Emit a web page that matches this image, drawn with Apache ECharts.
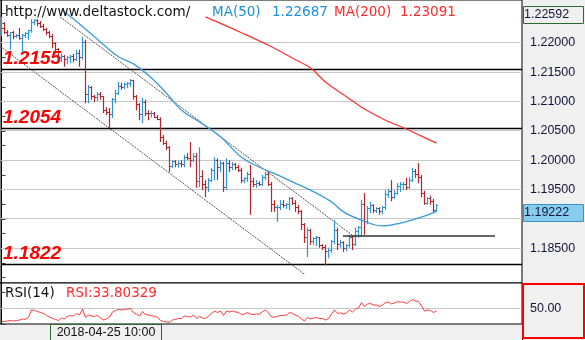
<!DOCTYPE html>
<html>
<head>
<meta charset="utf-8">
<script src="https://cdn.jsdelivr.net/npm/echarts@6/dist/echarts.min.js"></script>
<style>
  html, body { margin: 0; padding: 0; background: #f0f0f0; }
  #chart { width: 585px; height: 340px; }
</style>
</head>
<body>
<div id="chart"></div>
<script>
// EUR/USD hourly bars: [open, high, low, close]
const ohlc = [
  [1.2217,1.2244,1.2211,1.2232],[1.2232,1.2235,1.2215,1.2218],[1.2218,1.2222,1.2210,1.2213],[1.2213,1.2218,1.2188,1.2217],
  [1.2217,1.2220,1.2206,1.2211],[1.2211,1.2215,1.2208,1.2213],[1.2213,1.2225,1.2205,1.2208],[1.2208,1.2215,1.2184,1.2213],
  [1.2213,1.2218,1.2208,1.2215],[1.2215,1.2222,1.2205,1.2220],[1.2220,1.2240,1.2217,1.2235],[1.2235,1.2240,1.2230,1.2237],
  [1.2237,1.2240,1.2228,1.2232],[1.2232,1.2237,1.2225,1.2227],[1.2227,1.2232,1.2220,1.2222],[1.2222,1.2225,1.2213,1.2217],
  [1.2217,1.2220,1.2208,1.2211],[1.2211,1.2215,1.2191,1.2198],[1.2198,1.2201,1.2182,1.2188],[1.2188,1.2191,1.2165,1.2174],
  [1.2174,1.2182,1.2167,1.2177],[1.2177,1.2179,1.2159,1.2171],[1.2171,1.2177,1.2164,1.2174],[1.2174,1.2179,1.2165,1.2176],
  [1.2176,1.2181,1.2167,1.2172],[1.2172,1.2188,1.2169,1.2182],[1.2182,1.2188,1.2159,1.2174],[1.2174,1.2210,1.2171,1.2201],
  [1.2201,1.2205,1.2097,1.2111],[1.2111,1.2128,1.2097,1.2123],[1.2123,1.2126,1.2103,1.2108],[1.2108,1.2111,1.2099,1.2106],
  [1.2106,1.2116,1.2101,1.2111],[1.2111,1.2116,1.2103,1.2108],[1.2108,1.2109,1.2080,1.2085],[1.2085,1.2090,1.2077,1.2082],
  [1.2082,1.2089,1.2055,1.2077],[1.2077,1.2106,1.2072,1.2103],[1.2103,1.2120,1.2097,1.2114],[1.2114,1.2133,1.2111,1.2126],
  [1.2126,1.2132,1.2120,1.2123],[1.2123,1.2132,1.2121,1.2128],[1.2128,1.2133,1.2123,1.2130],[1.2130,1.2138,1.2125,1.2135],
  [1.2135,1.2137,1.2103,1.2108],[1.2108,1.2111,1.2085,1.2094],[1.2094,1.2097,1.2068,1.2077],[1.2077,1.2106,1.2063,1.2099],
  [1.2099,1.2103,1.2075,1.2080],[1.2080,1.2085,1.2068,1.2079],[1.2079,1.2084,1.2073,1.2080],[1.2080,1.2082,1.2072,1.2073],
  [1.2073,1.2077,1.2068,1.2070],[1.2070,1.2073,1.2031,1.2038],[1.2038,1.2043,1.2026,1.2029],[1.2029,1.2033,1.2017,1.2021],
  [1.2021,1.2024,1.1980,1.1990],[1.1990,1.2000,1.1987,1.1997],[1.1997,1.2000,1.1988,1.1992],[1.1992,1.1999,1.1987,1.1995],
  [1.1995,1.2000,1.1988,1.1992],[1.1992,1.2009,1.1988,1.2005],[1.2005,1.2012,1.2000,1.2003],[1.2003,1.2031,1.1988,1.2000],
  [1.2000,1.2012,1.1997,1.2007],[1.2007,1.2012,1.1953,1.1963],[1.1963,1.2022,1.1954,1.1973],[1.1973,1.1983,1.1949,1.1958],
  [1.1958,1.1966,1.1937,1.1953],[1.1953,1.1970,1.1946,1.1966],[1.1966,1.1987,1.1963,1.1982],[1.1982,1.2005,1.1966,1.2000],
  [1.2000,1.2003,1.1966,1.1988],[1.1988,1.2000,1.1980,1.1995],[1.1995,1.1997,1.1946,1.1953],[1.1953,1.2003,1.1949,1.1995],
  [1.1995,1.2000,1.1980,1.1987],[1.1987,1.1997,1.1983,1.1992],[1.1992,1.1995,1.1983,1.1987],[1.1987,1.1992,1.1980,1.1983],
  [1.1983,1.1987,1.1961,1.1966],[1.1966,1.1971,1.1961,1.1968],[1.1968,1.1980,1.1963,1.1975],[1.1975,1.1992,1.1907,1.1963],
  [1.1963,1.1970,1.1954,1.1958],[1.1958,1.1966,1.1953,1.1961],[1.1961,1.1964,1.1956,1.1959],[1.1959,1.1975,1.1956,1.1971],
  [1.1971,1.1980,1.1966,1.1976],[1.1976,1.1980,1.1956,1.1959],[1.1959,1.1963,1.1912,1.1924],[1.1924,1.1932,1.1912,1.1919],
  [1.1919,1.1924,1.1895,1.1920],[1.1920,1.1932,1.1915,1.1925],[1.1925,1.1932,1.1919,1.1922],[1.1922,1.1927,1.1917,1.1924],
  [1.1924,1.1937,1.1915,1.1934],[1.1934,1.1937,1.1924,1.1927],[1.1927,1.1932,1.1912,1.1920],[1.1920,1.1924,1.1908,1.1912],
  [1.1912,1.1915,1.1881,1.1890],[1.1890,1.1893,1.1859,1.1868],[1.1868,1.1885,1.1835,1.1880],[1.1880,1.1883,1.1856,1.1862],
  [1.1862,1.1869,1.1856,1.1866],[1.1866,1.1871,1.1854,1.1868],[1.1868,1.1869,1.1851,1.1854],[1.1854,1.1857,1.1847,1.1852],
  [1.1852,1.1856,1.1821,1.1844],[1.1844,1.1851,1.1833,1.1847],[1.1847,1.1864,1.1842,1.1861],[1.1861,1.1898,1.1857,1.1881],
  [1.1881,1.1885,1.1847,1.1857],[1.1857,1.1864,1.1851,1.1859],[1.1859,1.1862,1.1844,1.1849],[1.1849,1.1857,1.1845,1.1854],
  [1.1854,1.1873,1.1851,1.1868],[1.1868,1.1871,1.1847,1.1857],[1.1857,1.1885,1.1854,1.1878],[1.1878,1.1888,1.1868,1.1885],
  [1.1885,1.1932,1.1869,1.1925],[1.1925,1.1944,1.1873,1.1895],[1.1895,1.1922,1.1891,1.1917],[1.1917,1.1929,1.1910,1.1922],
  [1.1922,1.1925,1.1910,1.1915],[1.1915,1.1920,1.1910,1.1917],[1.1917,1.1920,1.1907,1.1912],[1.1912,1.1922,1.1908,1.1919],
  [1.1919,1.1949,1.1915,1.1941],[1.1941,1.1951,1.1936,1.1946],[1.1946,1.1966,1.1930,1.1937],[1.1937,1.1949,1.1934,1.1944],
  [1.1944,1.1961,1.1941,1.1956],[1.1956,1.1963,1.1946,1.1958],[1.1958,1.1963,1.1949,1.1959],[1.1959,1.1970,1.1949,1.1954],
  [1.1954,1.1971,1.1951,1.1966],[1.1966,1.1987,1.1963,1.1980],[1.1980,1.1985,1.1970,1.1975],[1.1975,1.1995,1.1961,1.1971],
  [1.1971,1.1975,1.1937,1.1944],[1.1944,1.1948,1.1924,1.1927],[1.1927,1.1937,1.1924,1.1934],[1.1934,1.1939,1.1924,1.1930],
  [1.1930,1.1934,1.1910,1.1915],[1.1915,1.1925,1.1912,1.19222]
];

// Moving averages: [bar index, value]
const ma50 = [
  [20,1.2256],[26,1.2232],[33,1.2201],[39,1.2176],[44,1.2164],[50,1.2140],[55,1.2114],[60,1.2085],
  [66,1.2065],[73,1.2040],[80,1.2005],[86,1.1988],[92,1.1975],[97,1.1963],[103,1.1949],[110,1.1929],
  [114,1.1912],[120,1.1898],[127,1.1888],[133,1.1893],[140,1.1903],[145,1.1913]
];
const ma200 = [
  [68,1.2244],[80,1.2217],[90,1.2193],[98,1.2171],[103,1.2157],[108,1.2133],[115,1.2108],
  [121,1.2087],[128,1.2068],[135,1.2053],[140,1.2041],[145,1.2029]
];

// RSI(14), one value per bar
const rsi14 = [
  41.6,41.6,41.9,42.2,41.9,42.2,42.5,43.2,42.9,44.4,48.9,48.6,47.9,47.3,46.7,45.4,44.4,43.5,42.9,42.2,
  43.8,43.2,44.8,45.4,45.1,46.7,45.7,49.5,44.1,45.7,45.1,44.8,45.4,43.8,42.5,43.2,44.4,47.6,48.6,49.2,
  48.9,49.2,49.5,49.8,47.3,46.3,45.1,47.9,46.0,45.7,45.4,44.8,44.4,42.2,41.6,41.3,41.0,42.5,42.9,43.5,
  43.5,45.1,44.8,44.4,45.7,43.5,44.8,43.8,43.5,45.1,46.7,48.2,47.3,48.2,45.4,48.2,47.6,48.2,47.6,47.3,
  46.0,46.3,47.3,46.3,46.0,46.3,46.3,47.9,48.9,47.0,44.4,44.4,44.8,45.4,45.4,45.7,47.3,46.7,45.7,44.8,
  43.2,41.9,44.1,43.2,43.8,44.1,43.5,43.5,42.5,43.5,46.3,48.9,46.7,47.0,46.3,47.0,48.9,47.6,49.5,50.1,
  53.6,51.1,52.7,53.0,52.0,52.0,51.1,52.0,53.6,53.9,52.7,53.3,54.3,53.9,53.9,53.0,54.3,55.5,54.6,54.3,
  51.4,48.2,48.9,48.6,47.3,48.2
];

// Channel lines and price levels
const upperTrend = [[19.5, 1.2244], [117.8, 1.1869]];
const lowerTrend = [[-0.5, 1.2194], [101.2, 1.1805]];
const keyLevels = [1.2155, 1.2054, 1.1822];
const breakoutLevel = [[113.8, 1.1871], [164.5, 1.1871]];

const priceLevels = [1.185, 1.19, 1.195, 1.2, 1.205, 1.21, 1.215, 1.22];
const priceTicks = [1.18, 1.1825, 1.185, 1.1875, 1.19, 1.1925, 1.195, 1.1975, 1.2, 1.2025,
  1.205, 1.2075, 1.21, 1.2125, 1.215, 1.2175, 1.22, 1.2225, 1.225];
const rsiLevels = [50];
const rsiTicks = [40, 50, 60];

const topPrice = 1.22592;
const lastPrice = 1.19222;
const cursorTime = '2018-04-25 10:00';
const maLegend = { ma50: '1.22687', ma200: '1.23091' };
const rsiLegend = '33.80329';

const X_MIN = -0.5, X_MAX = 173.5;
const UP = '#2b96d3', DOWN = '#b2272b';
const GRID_COLOR = '#c8c8c8';
const AXIS_FONT = '12.5px "Liberation Sans", Arial, sans-serif';
const HEAD_FONT = '13.5px "DejaVu Sans", Verdana, sans-serif';

const chart = echarts.init(document.getElementById('chart'), null, { renderer: 'canvas' });

function crisp(v) { return Math.round(v - 0.5) + 0.5; }

// Horizontal lines across a panel. Third value: 0 = light grid line, 1 = labelled support / resistance
function levelRenderer(params, api) {
  const cs = params.coordSys;
  const v = api.value(1);
  const isKey = api.value(2) === 1;
  const y = crisp(api.coord([0, v])[1]);
  const children = [{
    type: 'line',
    shape: { x1: cs.x + 1, y1: y, x2: cs.x + cs.width, y2: y },
    style: { stroke: isKey ? '#000000' : GRID_COLOR, lineWidth: isKey ? 1.6 : 1 },
    z2: isKey ? 10 : 0
  }];
  if (isKey) {
    children.push({
      type: 'text',
      z2: 11,
      style: {
        text: v.toFixed(4), x: cs.x + 3, y: y - 1,
        fill: '#ff0000', font: 'italic bold 19px "Liberation Sans", Arial, sans-serif',
        align: 'left', verticalAlign: 'bottom'
      }
    });
  }
  return { type: 'group', children };
}

const option = {
  animation: false,
  backgroundColor: '#f0f0f0',
  grid: [
    { left: 0, top: 0, width: 522, height: 283, show: true, backgroundColor: '#ffffff', borderColor: '#000', borderWidth: 1 },
    { left: 0, top: 283, width: 522, height: 41, show: true, backgroundColor: '#ffffff', borderColor: '#000', borderWidth: 1 }
  ],
  xAxis: [
    { type: 'value', gridIndex: 0, min: X_MIN, max: X_MAX, show: false },
    { type: 'value', gridIndex: 1, min: X_MIN, max: X_MAX, show: false }
  ],
  yAxis: [
    {
      type: 'value', gridIndex: 0, position: 'right', min: 1.17909, max: 1.22727, scale: true,
      axisLine: { show: true, lineStyle: { color: '#000', width: 1 } },
      axisTick: { show: true, inside: false, length: 4, customValues: priceTicks, lineStyle: { color: '#444' } },
      axisLabel: { show: true, margin: 8, customValues: priceLevels, formatter: v => v.toFixed(5),
        color: '#14143a', fontFamily: '"Liberation Sans", Arial, sans-serif', fontSize: 12.5 },
      splitLine: { show: false }
    },
    {
      type: 'value', gridIndex: 1, position: 'right', min: 40, max: 66,
      axisLine: { show: true, lineStyle: { color: '#000', width: 1 } },
      axisTick: { show: true, inside: false, length: 4, customValues: rsiTicks, lineStyle: { color: '#444' } },
      axisLabel: { show: true, margin: 8, customValues: rsiLevels, formatter: v => v.toFixed(2),
        color: '#14143a', fontFamily: '"Liberation Sans", Arial, sans-serif', fontSize: 12.5 },
      splitLine: { show: false }
    }
  ],
  series: [
    {
      type: 'line', name: 'upper channel', xAxisIndex: 0, yAxisIndex: 0, z: 3, silent: true,
      data: upperTrend, symbol: 'none', lineStyle: { color: '#555', width: 1, type: [2, 1] }
    },
    {
      type: 'line', name: 'lower channel', xAxisIndex: 0, yAxisIndex: 0, z: 3, silent: true,
      data: lowerTrend, symbol: 'none', lineStyle: { color: '#555', width: 1, type: [2, 1] }
    },
    {
      type: 'custom', name: 'levels', xAxisIndex: 0, yAxisIndex: 0, z: 3, silent: true,
      renderItem: levelRenderer,
      data: priceLevels.map(v => [0, v, 0]).concat(keyLevels.map(v => [0, v, 1]))
    },
    { // OHLC bars
      type: 'custom', name: 'EURUSD', xAxisIndex: 0, yAxisIndex: 0, z: 4, silent: true,
      encode: { x: 0, y: [1, 2, 3, 4] },
      data: ohlc.map((d, i) => [i, d[0], d[1], d[2], d[3]]),
      renderItem(params, api) {
        const i = api.value(0);
        const o = api.value(1), h = api.value(2), l = api.value(3), c = api.value(4);
        const x = api.coord([i, o])[0];
        const half = api.size([1, 0])[0] / 2;
        const yO = crisp(api.coord([i, o])[1]);
        const yC = crisp(api.coord([i, c])[1]);
        const yH = api.coord([i, h])[1];
        const yL = api.coord([i, l])[1];
        const color = c >= o ? UP : DOWN;
        const st = { stroke: color, lineWidth: 1.2 };
        return {
          type: 'group',
          children: [
            { type: 'line', shape: { x1: x, y1: yH, x2: x, y2: yL }, style: st },
            { type: 'line', shape: { x1: x - half, y1: yO, x2: x, y2: yO }, style: st },
            { type: 'line', shape: { x1: x, y1: yC, x2: x + half, y2: yC }, style: st }
          ]
        };
      }
    },
    {
      type: 'line', name: 'MA(50)', xAxisIndex: 0, yAxisIndex: 0, z: 5, silent: true,
      data: ma50, smooth: 0.4, symbol: 'none', lineStyle: { color: '#3b9bdb', width: 1.3 }
    },
    {
      type: 'line', name: 'MA(200)', xAxisIndex: 0, yAxisIndex: 0, z: 5, silent: true,
      data: ma200, smooth: 0.4, symbol: 'none', lineStyle: { color: '#ff3030', width: 1.2 }
    },
    {
      type: 'line', name: 'breakout', xAxisIndex: 0, yAxisIndex: 0, z: 6, silent: true,
      data: breakoutLevel, symbol: 'none', lineStyle: { color: '#333', width: 1.6 }
    },
    {
      type: 'custom', name: 'rsi mid', xAxisIndex: 1, yAxisIndex: 1, z: 3, silent: true,
      renderItem: levelRenderer,
      data: rsiLevels.map(v => [0, v, 0])
    },
    {
      type: 'line', name: 'RSI(14)', xAxisIndex: 1, yAxisIndex: 1, z: 4, silent: true,
      data: rsi14.map((v, i) => [i, v]), symbol: 'none', lineStyle: { color: '#ff3b3b', width: 1 }
    }
  ]
};

chart.setOption(option);

// Price tags and legends placed from the axis scales
const yTop = chart.convertToPixel({ yAxisIndex: 0 }, topPrice);
const yLast = chart.convertToPixel({ yAxisIndex: 0 }, lastPrice);
const tagH = 17;

chart.setOption({
  graphic: [
    { type: 'line', shape: { x1: 522.5, y1: 324, x2: 522.5, y2: 340 }, style: { stroke: '#000', lineWidth: 1 }, z: 50 },
    { type: 'rect', shape: { x: 523.5, y: Math.round(yTop + 6.5 - tagH / 2) + 0.5, width: 60, height: tagH },
      style: { fill: '#f0f0f0', stroke: '#2a6a2a', lineWidth: 1 }, z: 60 },
    { type: 'text', x: 524, y: yTop + 7, style: { text: topPrice.toFixed(5), font: AXIS_FONT, fill: '#14143a', verticalAlign: 'middle' }, z: 61 },
    { type: 'rect', shape: { x: 523.5, y: Math.round(yLast + 6.5 - tagH / 2) + 0.5, width: 60, height: tagH },
      style: { fill: '#87cdf0', stroke: '#3d8fc4', lineWidth: 1 }, z: 60 },
    { type: 'text', x: 524, y: yLast + 7, style: { text: lastPrice.toFixed(5), font: AXIS_FONT, fill: '#14143a', verticalAlign: 'middle' }, z: 61 },
    { type: 'rect', shape: { x: 523, y: 284, width: 61, height: 54 },
      style: { fill: 'none', stroke: '#ff0000', lineWidth: 2 }, z: 60 },
    { type: 'rect', shape: { x: 50.5, y: 324.5, width: 111, height: 16 },
      style: { fill: '#f0f0f0', stroke: '#2a6a2a', lineWidth: 1 }, z: 60 },
    { type: 'text', x: 106, y: 333, style: { text: cursorTime, font: AXIS_FONT, fill: '#111', align: 'center', verticalAlign: 'middle' }, z: 61 },
    { type: 'text', x: 5, y: 12, style: { text: 'http://www.deltastock.com/', font: HEAD_FONT, fill: '#111', verticalAlign: 'middle' }, z: 61 },
    { type: 'text', x: 212, y: 12, style: { text: 'MA(50)', font: HEAD_FONT, fill: '#1f8fd6', verticalAlign: 'middle' }, z: 61 },
    { type: 'text', x: 272, y: 12, style: { text: maLegend.ma50, font: HEAD_FONT, fill: '#1f8fd6', verticalAlign: 'middle' }, z: 61 },
    { type: 'text', x: 334, y: 12, style: { text: 'MA(200)', font: HEAD_FONT, fill: '#ff2a2a', verticalAlign: 'middle' }, z: 61 },
    { type: 'text', x: 400, y: 12, style: { text: maLegend.ma200, font: HEAD_FONT, fill: '#ff2a2a', verticalAlign: 'middle' }, z: 61 },
    { type: 'text', x: 5, y: 293, style: { text: 'RSI(14)', font: HEAD_FONT, fill: '#111', verticalAlign: 'middle' }, z: 61 },
    { type: 'text', x: 66, y: 293, style: { text: 'RSI:' + rsiLegend, font: HEAD_FONT, fill: '#ff2a2a', verticalAlign: 'middle' }, z: 61 }
  ]
});
</script>
</body>
</html>
